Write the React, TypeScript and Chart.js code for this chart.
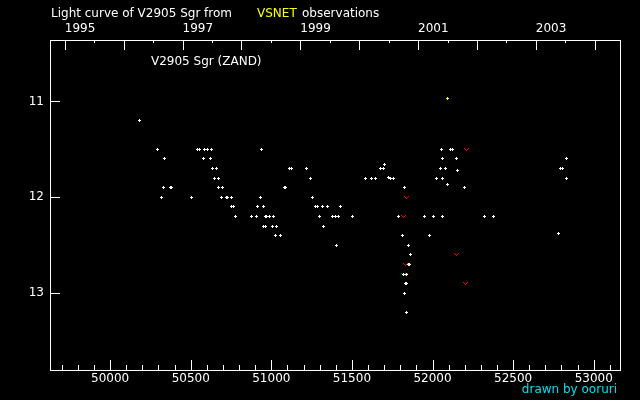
import React, { useEffect, useRef } from 'react';
import { Chart, registerables } from 'chart.js';

Chart.register(...registerables);

// Axis range (JD - 2400000 and magnitude)
const jdMin = 49627;
const jdMax = 53163;
const magTop = 10.36;
const magBottom = 13.8;

// Bottom axis labelled ticks (JD - 2400000)
const jdTicks = [50000, 50500, 51000, 51500, 52000, 52500, 53000];
const jdMinorStep = 100;
// Top axis: Jan 1 of each year (JD - 2400000)
const yearTickJD = [49718.5, 50083.5, 50449.5, 50814.5, 51179.5, 51544.5, 51910.5, 52275.5, 52640.5, 53005.5];
const yearLabels = ['1995', '', '1997', '', '1999', '', '2001', '', '2003', ''];
const magTicks = [11, 12, 13];

// White "+" observations
const obsJD = [
  50181, 50292, 50317, 50330, 50336, 50372, 50378, 50503, 50545, 50557,
  50578, 50586, 50603, 50621, 50627, 50636, 50648, 50658, 50671, 50675,
  50689, 50696, 50724, 50731, 50750, 50754, 50764, 50776, 50876, 50907,
  50913, 50932, 50938, 50950, 50950, 50962, 50963, 50968, 50990, 51006,
  51012, 51025, 51031, 51056, 51080, 51087, 51112, 51124, 51217, 51242,
  51254, 51273, 51285, 51298, 51316, 51323, 51347, 51378, 51397, 51403,
  51416, 51428, 51503, 51583, 51620, 51645, 51676, 51695, 51701, 51726,
  51738, 51757, 51788, 51813, 51819, 51825, 51825, 51833, 51838, 51838,
  51839, 51850, 51850, 51857, 51862, 51949, 51980, 52005, 52024, 52049,
  52055, 52061, 52061, 52061, 52080, 52092, 52111, 52123, 52148, 52154,
  52198, 52322, 52378, 52781, 52793, 52806, 52831, 52831,
];
const obsMag = [
  11.2, 11.5, 12.0, 11.9, 11.6, 11.9, 11.9, 12.0, 11.5, 11.5,
  11.6, 11.5, 11.5, 11.6, 11.5, 11.7, 11.8, 11.7, 11.9, 11.8,
  12.0, 11.9, 12.0, 12.0, 12.0, 12.1, 12.1, 12.2, 12.2, 12.2,
  12.1, 12.0, 11.5, 12.1, 12.3, 12.2, 12.3, 12.2, 12.2, 12.3,
  12.2, 12.4, 12.3, 12.4, 11.9, 11.9, 11.7, 11.7, 11.7, 11.8,
  12.0, 12.1, 12.1, 12.2, 12.1, 12.3, 12.1, 12.2, 12.2, 12.5,
  12.2, 12.1, 12.2, 11.8, 11.8, 11.8, 11.7, 11.7, 11.66, 11.79,
  11.8, 11.8, 12.2, 12.4, 12.8, 11.9, 13.0, 12.9, 12.8, 13.2,
  12.9, 12.5, 12.7, 12.7, 12.6, 12.2, 12.4, 12.2, 11.8, 11.7,
  11.5, 11.6, 11.8, 12.2, 11.7, 11.87, 11.5, 11.5, 11.6, 11.72,
  11.9, 12.2, 12.2, 12.38, 11.7, 11.7, 11.6, 11.8,
];

// Yellow "+" observation
const yellowJD = [52092];
const yellowMag = [10.97];

// Red "v" fainter-than observations
const limitJD = [51819, 51822, 51830, 51831, 51838, 52148, 52204, 52210];
const limitMag = [12.2, 12.8, 12.8, 12.7, 12.0, 12.6, 12.9, 11.5];

const FONT = '"DejaVu Sans"';

function makePlus(color: string) {
  const c = document.createElement('canvas');
  c.width = 3;
  c.height = 3;
  const g = c.getContext('2d')!;
  g.fillStyle = color;
  g.fillRect(1, 0, 1, 3);
  g.fillRect(0, 1, 3, 1);
  return c;
}

function makeV(color: string) {
  const c = document.createElement('canvas');
  c.width = 5;
  c.height = 3;
  const g = c.getContext('2d')!;
  g.fillStyle = color;
  g.fillRect(0, 0, 1, 1);
  g.fillRect(4, 0, 1, 1);
  g.fillRect(1, 1, 1, 1);
  g.fillRect(3, 1, 1, 1);
  g.fillRect(2, 2, 1, 1);
  return c;
}

const decorPlugin = {
  id: 'decor',
  beforeDraw(chart: any) {
    const ctx = chart.ctx;
    ctx.save();
    ctx.fillStyle = '#000';
    ctx.fillRect(0, 0, chart.width, chart.height);
    ctx.restore();
    ctx.imageSmoothingEnabled = false;
  },
  beforeDatasetsDraw(chart: any) {
    chart.ctx.imageSmoothingEnabled = false;
  },
  afterDraw(chart: any) {
    const { ctx, chartArea: a, scales } = chart;
    const xs = scales.x;
    const ys = scales.y;
    ctx.save();
    ctx.strokeStyle = '#fff';
    ctx.lineWidth = 1;
    ctx.strokeRect(a.left + 0.5, a.top + 0.5, a.right - a.left, a.bottom - a.top);
    ctx.beginPath();
    // bottom ticks
    const first = Math.ceil(jdMin / jdMinorStep) * jdMinorStep;
    for (let v = first; v <= jdMax; v += jdMinorStep) {
      const px = Math.round(xs.getPixelForValue(v)) + 0.5;
      const len = v % 500 === 0 ? 10 : 5;
      ctx.moveTo(px, a.bottom);
      ctx.lineTo(px, a.bottom - len);
    }
    // top ticks (years and half years)
    for (let i = 0; i < yearTickJD.length; i++) {
      const v = yearTickJD[i];
      if (v >= jdMin && v <= jdMax) {
        const px = Math.round(xs.getPixelForValue(v)) + 0.5;
        ctx.moveTo(px, a.top);
        ctx.lineTo(px, a.top + 10);
      }
      const next = yearTickJD[i + 1] !== undefined ? yearTickJD[i + 1] : v + 365.25;
      const prev = i > 0 ? yearTickJD[i - 1] : v - 365.25;
      const mids = [(v + next) / 2];
      if (i === 0) mids.push((prev + v) / 2);
      for (const m of mids) {
        if (m >= jdMin && m <= jdMax) {
          const px = Math.round(xs.getPixelForValue(m)) + 0.5;
          ctx.moveTo(px, a.top);
          ctx.lineTo(px, a.top + 3);
        }
      }
    }
    // left ticks
    for (const m of magTicks) {
      const py = Math.round(ys.getPixelForValue(m)) + 0.5;
      ctx.moveTo(a.left, py);
      ctx.lineTo(a.left + 10, py);
    }
    ctx.stroke();

    ctx.font = `12px ${FONT}`;
    ctx.textBaseline = 'alphabetic';
    ctx.textAlign = 'left';
    ctx.fillStyle = '#fff';
    ctx.fillText('Light curve of V2905 Sgr from', 51, 17);
    ctx.fillStyle = '#ffff00';
    ctx.fillText('VSNET', 257, 17);
    ctx.fillStyle = '#fff';
    ctx.fillText('observations', 302, 17);
    ctx.fillText('V2905 Sgr (ZAND)', 151, 65);
    ctx.fillStyle = '#00e0f0';
    ctx.textAlign = 'right';
    ctx.fillText('drawn by ooruri', 617, 393);
    ctx.restore();
  },
};

export default function App() {
  const ref = useRef<HTMLCanvasElement | null>(null);

  useEffect(() => {
    if (!ref.current) return;
    const plusWhite = makePlus('#ffffff');
    const plusYellow = makePlus('#ffff00');
    const vRed = makeV('#ff0000');
    const tickFont = { family: FONT, size: 12 };

    const chart = new Chart(ref.current, {
      type: 'scatter',
      data: {
        datasets: [
          {
            label: 'obs',
            data: obsJD.map((x, i) => ({ x, y: obsMag[i] })),
            pointStyle: plusWhite as any,
          },
          {
            label: 'yellow',
            data: yellowJD.map((x, i) => ({ x, y: yellowMag[i] })),
            pointStyle: plusYellow as any,
          },
          {
            label: 'fainter',
            data: limitJD.map((x, i) => ({ x, y: limitMag[i] })),
            pointStyle: vRed as any,
          },
        ],
      },
      options: {
        animation: false,
        responsive: false,
        devicePixelRatio: 1,
        events: [],
        layout: { padding: { left: 0, right: 20, top: 0, bottom: 0 } },
        plugins: {
          legend: { display: false },
          tooltip: { enabled: false },
          title: { display: false },
        },
        scales: {
          x: {
            type: 'linear',
            position: 'bottom',
            min: jdMin,
            max: jdMax,
            grid: { display: false, drawTicks: false },
            border: { display: false },
            afterBuildTicks: (s: any) => {
              s.ticks = jdTicks.map((v) => ({ value: v }));
            },
            afterFit: (s: any) => {
              s.height = 30;
            },
            ticks: {
              color: '#fff',
              font: tickFont,
              padding: 2,
              maxRotation: 0,
              autoSkip: false,
              callback: (v: any) => String(v),
            },
          },
          x2: {
            type: 'linear',
            axis: 'x',
            position: 'top',
            min: jdMin,
            max: jdMax,
            grid: { display: false, drawTicks: false },
            border: { display: false },
            afterBuildTicks: (s: any) => {
              s.ticks = yearTickJD.map((v) => ({ value: v }));
            },
            afterFit: (s: any) => {
              s.height = 40;
            },
            ticks: {
              color: '#fff',
              font: tickFont,
              padding: 4,
              align: 'start',
              maxRotation: 0,
              autoSkip: false,
              callback: (_v: any, i: number) => yearLabels[i],
            },
          },
          y: {
            type: 'linear',
            position: 'left',
            reverse: true,
            min: magTop,
            max: magBottom,
            grid: { display: false, drawTicks: false },
            border: { display: false },
            afterBuildTicks: (s: any) => {
              s.ticks = magTicks.map((v) => ({ value: v }));
            },
            afterFit: (s: any) => {
              s.width = 50;
            },
            ticks: {
              color: '#fff',
              font: tickFont,
              padding: 6,
              callback: (v: any) => String(v),
            },
          },
        },
      } as any,
      plugins: [decorPlugin],
    });
    return () => chart.destroy();
  }, []);

  return (
    <div style={{ position: 'fixed', left: 0, top: 0, width: 640, height: 400, background: '#000' }}>
      <canvas ref={ref} width={640} height={400} style={{ display: 'block' }} />
    </div>
  );
}
